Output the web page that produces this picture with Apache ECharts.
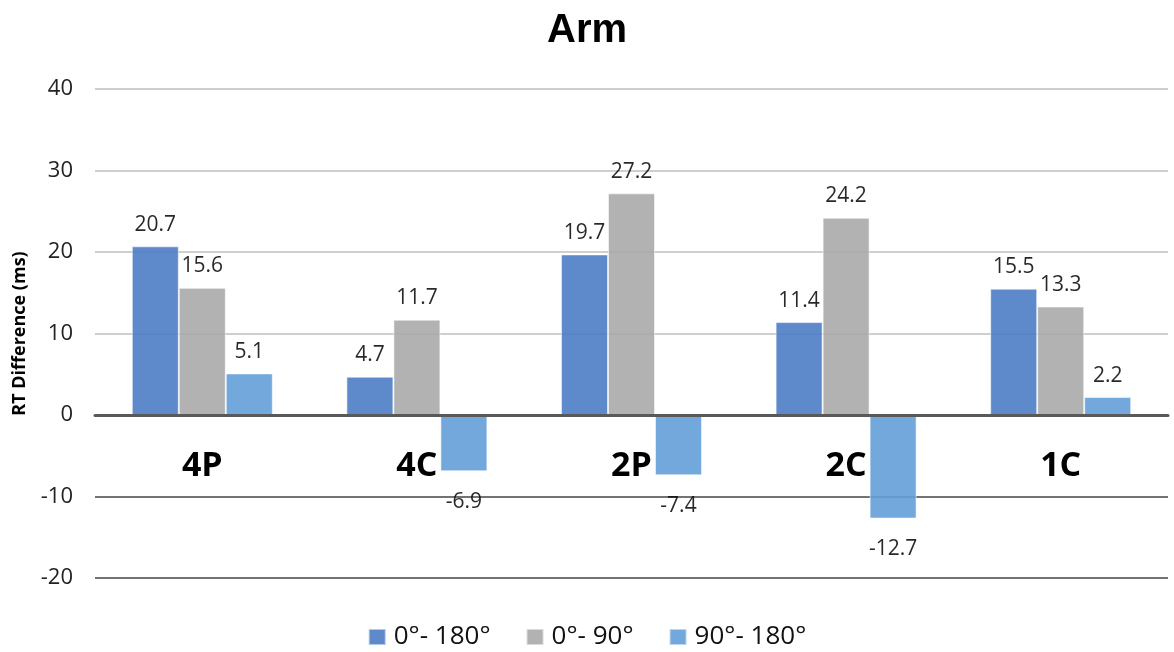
<!DOCTYPE html>
<html>
<head>
<meta charset="utf-8">
<script src="https://cdn.jsdelivr.net/npm/echarts@6/dist/echarts.min.js"></script>
<style>html,body{margin:0;padding:0;background:#fff}#c{width:1174px;height:652px}</style>
</head>
<body>
<div id="c"></div>
<script>
const categories = ['4P', '4C', '2P', '2C', '1C'];
const seriesNames = ['0°- 180°', '0°- 90°', '90°- 180°'];
const s0to180 = [20.7, 4.7, 19.7, 11.4, 15.5];
const s0to90 = [15.6, 11.7, 27.2, 24.2, 13.3];
const s90to180 = [5.1, -6.9, -7.4, -12.7, 2.2];
const yTicks = [-20, -10, 0, 10, 20, 30, 40];
const colors = ['#4D7CC5', '#AAAAAA', '#639FD7'];

const FONT = '"Open Sans", "Liberation Sans", sans-serif';
const W = 1174, H = 652;
const GRID = { left: 95, right: 6, top: 89, bottom: 74 };
const yMin = yTicks[0], yMax = yTicks[yTicks.length - 1];
const gridH = H - GRID.top - GRID.bottom;
const zeroOffset = -gridH * (0 - yMin) / (yMax - yMin);

function toData(arr) {
  return arr.map(v => ({
    value: v,
    label: v < 0 ? { position: 'bottom', distance: 20 } : { position: 'top', distance: 11 }
  }));
}

const chart = echarts.init(document.getElementById('c'));
const allSeries = [s0to180, s0to90, s90to180].map((arr, i) => ({
  name: seriesNames[i],
  type: 'bar',
  data: toData(arr),
  barWidth: 47,
  barGap: '0%',
  itemStyle: { color: colors[i], opacity: 0.9, borderColor: 'rgba(255,255,255,0.6)', borderWidth: 1 },
  label: {
    show: true,
    color: '#111',
    fontSize: 21,
    fontFamily: FONT,
    formatter: p => p.value.toFixed(1)
  }
}));

chart.setOption({
  animation: false,
  title: {
    text: 'Arm',
    left: 'center',
    top: 6,
    textStyle: { fontSize: 40, fontWeight: 'bold', color: '#000', fontFamily: '"Liberation Sans", Arial, sans-serif' }
  },
  legend: {
    bottom: -3,
    left: 'center',
    itemWidth: 17,
    itemHeight: 16,
    itemGap: 35,
    icon: 'rect',
    textStyle: { fontSize: 26, color: '#111', fontFamily: FONT, padding: [0, 0, 0, 3] }
  },
  grid: Object.assign({ containLabel: false, outerBoundsMode: 'none' }, GRID),
  xAxis: {
    type: 'category',
    data: categories,
    position: 'bottom',
    offset: zeroOffset,
    axisLine: { onZero: false, lineStyle: { color: '#595959', width: 3 } },
    axisTick: { show: false },
    axisLabel: { margin: 34, fontSize: 34, fontWeight: 'bold', color: '#000', fontFamily: FONT },
    z: 5
  },
  yAxis: {
    type: 'value',
    min: yMin,
    max: yMax,
    interval: 10,
    name: 'RT Difference (ms)',
    nameLocation: 'middle',
    nameGap: 66,
    nameTextStyle: { fontSize: 18, fontWeight: 'bold', color: '#000', fontFamily: FONT },
    axisLine: { show: false },
    axisTick: { show: false },
    axisLabel: { fontSize: 22, color: '#222', margin: 22, fontFamily: FONT },
    splitLine: { lineStyle: { color: ['#444', '#444', '#595959', '#BFBFBF', '#BFBFBF', '#BFBFBF', '#BFBFBF'], width: 1.5 } }
  },
  series: allSeries
});
</script>
</body>
</html>
